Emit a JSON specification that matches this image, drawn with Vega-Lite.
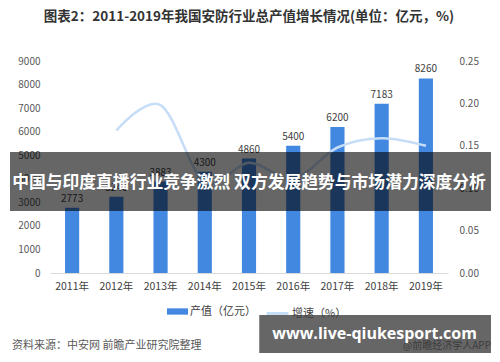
{
  "$schema": "https://vega.github.io/schema/vega-lite/v6.json",
  "width": 398,
  "height": 212,
  "autosize": {"type": "none"},
  "padding": {"left": 50, "top": 61, "right": 52, "bottom": 89},
  "background": "white",
  "title": {
    "text": "图表2：2011-2019年我国安防行业总产值增长情况(单位：亿元，%)",
    "fontSize": 13.5,
    "font": "Noto Sans CJK SC",
    "fontWeight": "bold",
    "color": "#333333",
    "anchor": "middle",
    "offset": 33
  },
  "data": {
    "values": [
      {"year": "2011年", "value": 2773, "growth": null},
      {"year": "2012年", "value": 3240, "growth": 0.168},
      {"year": "2013年", "value": 3883, "growth": 0.198},
      {"year": "2014年", "value": 4300, "growth": 0.107},
      {"year": "2015年", "value": 4860, "growth": 0.130},
      {"year": "2016年", "value": 5400, "growth": 0.111},
      {"year": "2017年", "value": 6200, "growth": 0.148},
      {"year": "2018年", "value": 7183, "growth": 0.159},
      {"year": "2019年", "value": 8260, "growth": 0.150}
    ]
  },
  "config": {
    "view": {"stroke": null},
    "font": "Noto Sans CJK SC",
    "axis": {
      "grid": false,
      "ticks": false,
      "domain": false,
      "labelOverlap": false,
      "labelFont": "Noto Sans CJK SC",
      "labelColor": "#595959",
      "labelFontSize": 10
    }
  },
  "layer": [
    {
      "encoding": {
        "x": {
          "field": "year", "type": "nominal", "sort": null,
          "scale": {"paddingInner": 0.68, "paddingOuter": 0.34},
          "axis": {"title": null, "labelAngle": 0, "domain": true, "domainColor": "#d9d9d9", "labelPadding": 8, "labelFontSize": 10.5, "labelColor": "#404040"}
        },
        "y": {
          "field": "value", "type": "quantitative",
          "scale": {"domain": [0, 9000]},
          "axis": {"title": null, "values": [0, 1000, 2000, 3000, 4000, 5000, 6000, 7000, 8000, 9000], "format": "d", "labelPadding": 10, "labelOverlap": false}
        }
      },
      "layer": [
        {
          "mark": {"type": "bar", "color": "#4287e0"},
          "encoding": {
            "fill": {
              "datum": "产值（亿元）", "type": "nominal",
              "scale": {"range": ["#4287e0"]},
              "legend": {"orient": "none", "legendX": 117, "legendY": 240, "title": null, "symbolType": "M-1,-0.3H1V0.3H-1Z", "symbolSize": 441, "symbolStrokeWidth": 0, "labelFontSize": 11, "labelColor": "#404040", "labelFont": "Noto Sans CJK SC", "labelOffset": 2}
            }
          }
        },
        {
          "mark": {"type": "text", "dy": -9, "fontSize": 10, "color": "#404040"},
          "encoding": {
            "text": {"field": "value", "type": "quantitative", "format": "d"}
          }
        }
      ]
    },
    {
      "transform": [{"filter": "datum.growth != null"}],
      "mark": {"type": "line", "interpolate": "cardinal", "strokeWidth": 2.5},
      "encoding": {
        "x": {"field": "year", "type": "nominal", "sort": null},
        "y": {
          "field": "growth", "type": "quantitative",
          "scale": {"domain": [0, 0.25]},
          "axis": {"orient": "right", "title": null, "values": [0, 0.05, 0.1, 0.15, 0.2, 0.25], "format": ".2f", "labelPadding": 11}
        },
        "stroke": {
          "datum": "增速（%）", "type": "nominal",
          "scale": {"range": ["#c6ddf7"]},
          "legend": {"orient": "none", "legendX": 215, "legendY": 240, "title": null, "symbolType": "stroke", "symbolSize": 484, "symbolStrokeWidth": 3, "labelFontSize": 11, "labelColor": "#404040", "labelFont": "Noto Sans CJK SC", "labelOffset": 2}
        }
      }
    },
    {
      "data": {"values": [{}]},
      "layer": [
        {
          "mark": {"type": "text", "align": "left", "baseline": "middle", "fontSize": 11, "color": "#595959"},
          "encoding": {
            "x": {"datum": "2011年", "bandPosition": -3.75},
            "y": {"datum": -3100, "type": "quantitative", "scale": {"domain": [0, 9000]}, "axis": null},
            "text": {"value": "资料来源：中安网 前瞻产业研究院整理"}
          }
        },
        {
          "mark": {"type": "text", "align": "right", "baseline": "middle", "fontSize": 10, "color": "#999999"},
          "encoding": {
            "x": {"datum": "2019年", "bandPosition": 5.1},
            "y": {"datum": -3100, "type": "quantitative"},
            "text": {"value": "@前瞻经济学人APP"}
          }
        },
        {
          "mark": {"type": "rect", "color": "black", "opacity": 0.6},
          "encoding": {
            "x": {"datum": "2011年", "bandPosition": -3.89},
            "x2": {"datum": "2019年", "bandPosition": 5.1},
            "y": {"datum": 5137, "type": "quantitative"},
            "y2": {"datum": 2632}
          }
        },
        {
          "mark": {"type": "text", "color": "white", "fontSize": 16.8, "fontWeight": "bold", "baseline": "middle", "align": "center"},
          "encoding": {
            "x": {"datum": "2015年"},
            "y": {"datum": 3821, "type": "quantitative"},
            "text": {"value": "中国与印度直播行业竞争激烈 双方发展趋势与市场潜力深度分析"}
          }
        },
        {
          "mark": {"type": "rect", "color": "black", "opacity": 0.6},
          "encoding": {
            "x": {"datum": "2016年", "bandPosition": -1.9},
            "x2": {"datum": "2019年", "bandPosition": 5.1},
            "y": {"datum": -1783, "type": "quantitative"},
            "y2": {"datum": -3396}
          }
        },
        {
          "mark": {"type": "text", "color": "white", "fontSize": 16, "fontWeight": "bold", "baseline": "middle", "align": "center", "font": "Open Sans"},
          "encoding": {
            "x": {"datum": "2018年", "bandPosition": 0},
            "y": {"datum": -2590, "type": "quantitative"},
            "text": {"value": "www.live-qiukesport.com"}
          }
        }
      ]
    }
  ],
  "resolve": {"scale": {"y": "independent"}}
}
